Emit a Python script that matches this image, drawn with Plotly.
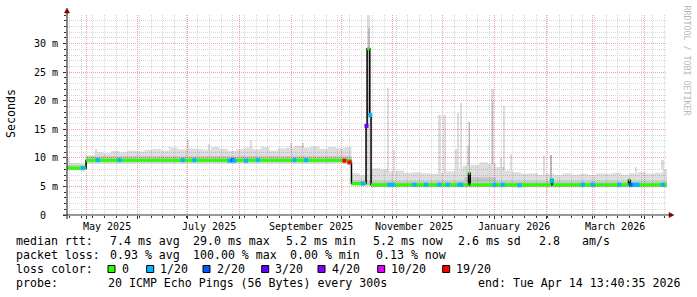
import plotly.graph_objects as go
import pandas as pd

# ---------------- data ----------------
start_time = "2025-04-19 13:40:35"
end_time = "2026-04-14 13:40:35"

# smoke (ping spread) envelope, step-wise, ms
smoke_dates = [
    "2025-04-19 13:40", "2025-04-21", "2025-04-26", "2025-05-01", "2025-05-06", "2025-05-11",
    "2025-05-16", "2025-05-21", "2025-05-26", "2025-05-31", "2025-06-05", "2025-06-10",
    "2025-06-15", "2025-06-20", "2025-06-25", "2025-06-30", "2025-07-05", "2025-07-10",
    "2025-07-15", "2025-07-20", "2025-07-25", "2025-07-30", "2025-08-04", "2025-08-09",
    "2025-08-14", "2025-08-19", "2025-08-24", "2025-08-29", "2025-09-03", "2025-09-08",
    "2025-09-13", "2025-09-18", "2025-09-23", "2025-09-28", "2025-10-03", "2025-10-07 06:00",
    "2025-10-12", "2025-10-16", "2025-10-19", "2025-10-24", "2025-10-29", "2025-11-03",
    "2025-11-08", "2025-11-13", "2025-11-18", "2025-11-23", "2025-11-28", "2025-12-03",
    "2025-12-08", "2025-12-13", "2025-12-18", "2025-12-23", "2025-12-28", "2026-01-02",
    "2026-01-07", "2026-01-12", "2026-01-17", "2026-01-22", "2026-01-27", "2026-02-01",
    "2026-02-06", "2026-02-11", "2026-02-16", "2026-02-21", "2026-02-26", "2026-03-03",
    "2026-03-08", "2026-03-13", "2026-03-18", "2026-03-23", "2026-03-28", "2026-04-02",
    "2026-04-07", "2026-04-12", "2026-04-14 13:40",
]
smoke_lo = [
    7.8, 7.8, 7.8, 9.0, 9.0, 9.0,
    9.0, 9.0, 9.0, 9.0, 9.0, 9.0,
    9.0, 9.0, 9.0, 9.0, 9.0, 9.0,
    9.0, 9.0, 9.0, 9.0, 9.0, 9.0,
    9.0, 9.0, 9.0, 9.0, 9.0, 9.0,
    9.0, 9.0, 9.0, 9.0, 8.9, 5.1,
    5.1, 5.1, 4.8, 4.8, 4.8, 4.8,
    4.8, 4.8, 4.8, 4.8, 4.8, 4.8,
    4.8, 4.8, 4.8, 4.8, 4.8, 4.8,
    4.8, 4.8, 4.8, 4.8, 4.8, 4.8,
    4.8, 4.8, 4.8, 4.8, 4.8, 4.8,
    4.8, 4.8, 4.8, 4.8, 4.8, 4.8,
    4.8, 4.8, 4.8,
]
smoke_hi = [
    10.0, 9.1, 9.0, 10.4, 11.0, 10.8,
    11.2, 11.0, 11.3, 11.1, 11.4, 11.6,
    11.3, 11.8, 11.5, 11.7, 11.6, 11.4,
    11.9, 11.6, 11.2, 11.5, 11.8, 11.5,
    11.9, 11.3, 11.7, 11.8, 12.1, 11.8,
    12.0, 11.6, 11.9, 11.7, 11.9, 7.3,
    7.0, 7.3, 8.2, 8.0, 7.6, 7.8,
    7.4, 7.5, 7.3, 7.2, 7.4, 7.6,
    8.0, 8.6, 8.8, 9.2, 9.0, 8.4,
    7.8, 7.5, 7.2, 7.3, 7.0, 7.2,
    7.0, 7.3, 7.1, 7.2, 7.0, 7.3,
    7.2, 7.4, 7.1, 7.3, 7.5, 7.2,
    7.4, 8.0, 8.0,
]

# darker core of the smoke around the median
core_dates = ["2025-04-19 13:40", "2025-05-01", "2025-10-07 06:00", "2025-10-16",
              "2025-10-19", "2025-12-14", "2026-01-02", "2026-04-14 13:40"]
core_lo = [7.9, 9.2, 5.2, 5.2, 4.9, 4.9, 4.9, 4.9]
core_hi = [8.7, 10.3, 6.0, 6.0, 5.9, 6.6, 5.9, 5.9]

# median rtt, step-wise, ms
median_dates = ["2025-04-19 13:40", "2025-05-01", "2025-10-06 18:00", "2025-10-07 06:00",
                "2025-10-16 00:00", "2025-10-16 15:00", "2025-10-18 06:00", "2025-10-19 00:00",
                "2025-12-16 12:00", "2025-12-17 12:00", "2026-02-04 00:00", "2026-02-05 00:00",
                "2026-03-22 12:00", "2026-03-23 12:00", "2026-04-14 13:40"]
median_ms = [8.2, 9.6, 9.2, 5.5, 15.6, 29.1, 17.5, 5.3, 7.3, 5.3, 6.2, 5.3, 6.1, 5.3, 5.3]

# samples with packet loss (median value, loss level index into legend)
loss_dates = ["2025-04-29", "2025-05-08", "2025-05-21", "2025-06-28", "2025-07-05", "2025-07-26",
              "2025-07-28", "2025-07-29", "2025-08-05", "2025-08-12", "2025-09-03", "2025-09-10",
              "2025-10-03", "2025-10-06", "2025-10-14", "2025-10-16 06:00", "2025-10-18 12:00",
              "2025-10-30", "2025-11-01", "2025-11-14", "2025-11-21", "2025-11-29", "2025-12-04",
              "2025-12-11", "2025-12-12", "2026-01-01", "2026-01-06", "2026-01-16", "2026-02-04 12:00",
              "2026-02-23", "2026-03-01", "2026-03-17", "2026-03-24", "2026-03-26", "2026-03-28",
              "2026-04-12"]
loss_ms = [8.2, 9.6, 9.6, 9.6, 9.6, 9.5,
           9.6, 9.5, 9.5, 9.6, 9.6, 9.6,
           9.5, 9.2, 5.5, 15.6, 17.5,
           5.3, 5.3, 5.3, 5.3, 5.3, 5.3,
           5.3, 5.3, 5.3, 5.3, 5.2, 5.9,
           5.3, 5.3, 5.3, 5.3, 5.3, 5.3,
           5.3]
loss_level = [1, 1, 1, 1, 1, 1,
              2, 1, 1, 1, 1, 1,
              6, 6, 1, 3, 1,
              1, 1, 1, 1, 1, 1,
              1, 1, 1, 1, 1, 1,
              1, 1, 1, 2, 1, 1,
              1]

# narrow smoke spikes (top of the spread, ms)
spike_dates = ["2025-05-07", "2025-06-20", "2025-07-01", "2025-07-14", "2025-08-08", "2025-09-01",
               "2025-09-08", "2025-10-05", "2025-10-16 06:00", "2025-10-17 12:00", "2025-10-29",
               "2025-11-02", "2025-11-29", "2025-12-02", "2025-12-09", "2025-12-10", "2025-12-12",
               "2025-12-16", "2025-12-17", "2025-12-31", "2026-01-05", "2026-01-07", "2026-01-11",
               "2026-01-31", "2026-02-04", "2026-03-27", "2026-04-12"]
spike_top = [11.6, 11.9, 13.1, 12.4, 13.1, 12.6,
             12.6, 11.9, 16.0, 35.0, 22.3,
             11.4, 17.5, 17.5, 11.6, 17.8, 19.6,
             12.0, 16.3, 22.0, 10.2, 19.0, 10.7,
             10.5, 10.5, 8.4, 9.6]
spike_days = [1.2, 1.2, 1.2, 1.2, 1.2, 1.2,
              1.2, 1.2, 1.0, 1.8, 1.2,
              1.2, 1.5, 1.5, 1.0, 1.0, 1.2,
              1.0, 1.2, 1.8, 1.0, 1.2, 1.0,
              1.2, 1.5, 1.2, 1.5]

# denser parts inside spikes
dark_dates = ["2025-10-17 12:00", "2025-12-17", "2025-12-31", "2026-02-04"]
dark_lo = [17.5, 7.3, 9.0, 6.3]
dark_hi = [32.7, 16.3, 20.0, 10.5]
dark_days = [1.2, 1.0, 0.8, 1.2]

# axes
y_tick_vals = [0, 5, 10, 15, 20, 25, 30]
y_tick_text = ["0\u00a0\u00a0", "5 m", "10 m", "15 m", "20 m", "25 m", "30 m"]
month_label_dates = ["2025-05-13 12:00", "2025-07-13 12:00", "2025-09-13 00:00",
                     "2025-11-13 12:00", "2026-01-13 00:00", "2026-03-14 12:00"]
month_labels = ["May 2025", "July 2025", "September 2025", "November 2025",
                "January 2026", "March 2026"]

# legend
loss_legend_labels = ["0", "1/20", "2/20", "3/20", "4/20", "10/20", "19/20"]
loss_legend_colors = ["#26ff00", "#00b8ff", "#0059ff", "#5e00ff", "#7e00ff", "#dd00ff", "#ff0000"]
legend_rtt = ["median rtt:", "7.4 ms avg", "29.0 ms max", "5.2 ms min", "5.2 ms now", "2.6 ms sd", "2.8", "am/s"]
legend_loss = ["packet loss:", "0.93 % avg", "100.00 % max", "0.00 % min", "0.13 % now"]
legend_color_title = "loss color:"
legend_probe = ["probe:", "20 ICMP Echo Pings (56 Bytes) every 300s"]
legend_end = "end: Tue Apr 14 13:40:35 2026"

# ---------------- layout geometry ----------------
W, H = 697, 297
L, T, PW, PH = 67, 15, 600, 200
MONO = "DejaVu Sans Mono"
DAY_MS = 86400000


def px(x):
    return (x - L) / PW


def py(y):
    return (T + PH - y) / PH


fig = go.Figure()

# smoke envelope
fig.add_trace(go.Scatter(x=smoke_dates, y=smoke_lo, mode="lines", line=dict(width=0, shape="hv"),
                         hoverinfo="skip", showlegend=False))
fig.add_trace(go.Scatter(x=smoke_dates, y=smoke_hi, mode="lines", line=dict(width=0, shape="hv"),
                         fill="tonexty", fillcolor="rgba(0,0,0,0.13)", hoverinfo="skip", showlegend=False))
# darker core
fig.add_trace(go.Scatter(x=core_dates, y=core_lo, mode="lines", line=dict(width=0, shape="hv"),
                         hoverinfo="skip", showlegend=False))
fig.add_trace(go.Scatter(x=core_dates, y=core_hi, mode="lines", line=dict(width=0, shape="hv"),
                         fill="tonexty", fillcolor="rgba(0,0,0,0.11)", hoverinfo="skip", showlegend=False))

# spikes: from the smoke top at that time up to the spike top
smoke_series = pd.Series(smoke_hi, index=pd.to_datetime(smoke_dates, format="ISO8601"))
spike_base = [float(smoke_series.asof(pd.Timestamp(d))) for d in spike_dates]
fig.add_trace(go.Bar(x=spike_dates, y=[t - b for t, b in zip(spike_top, spike_base)], base=spike_base,
                     width=[d * DAY_MS for d in spike_days], marker=dict(color="rgba(0,0,0,0.13)", line=dict(width=0)),
                     hoverinfo="skip", showlegend=False))
fig.add_trace(go.Bar(x=dark_dates, y=[h - l for h, l in zip(dark_hi, dark_lo)], base=dark_lo,
                     width=[d * DAY_MS for d in dark_days], marker=dict(color="rgba(0,0,0,0.16)", line=dict(width=0)),
                     hoverinfo="skip", showlegend=False))

# black step line (shows at the jumps)
fig.add_trace(go.Scatter(x=median_dates, y=median_ms, mode="lines", line=dict(color="#000000", width=1.5, shape="hv"),
                         hoverinfo="skip", showlegend=False))
# green horizontal median pieces
seg_x, seg_y = [], []
for i in range(len(median_dates) - 1):
    seg_x += [median_dates[i], median_dates[i + 1], None]
    seg_y += [median_ms[i], median_ms[i], None]
fig.add_trace(go.Scatter(x=seg_x, y=seg_y, mode="lines", line=dict(color=loss_legend_colors[0], width=3),
                         connectgaps=False, hoverinfo="skip", showlegend=False))
# loss coloured samples
fig.add_trace(go.Scatter(x=loss_dates, y=loss_ms, mode="markers",
                         marker=dict(symbol="square", size=4, color=[loss_legend_colors[k] for k in loss_level],
                                     line=dict(width=0)),
                         hoverinfo="skip", showlegend=False))

grid_minor = "#d6d6d6"
grid_major = "#f4a0a0"
axis_col = "#333333"

fig.update_xaxes(
    type="date", range=[start_time, end_time], showgrid=True, gridcolor=grid_major, griddash="1px,1px",
    gridwidth=1, dtick="M1", tick0="2025-05-01", showticklabels=False, ticks="outside", ticklen=3,
    tickcolor=axis_col, showline=False, zeroline=False, fixedrange=True,
    minor=dict(dtick=7 * DAY_MS, tick0="2025-04-21", showgrid=True, gridcolor=grid_minor,
               griddash="1px,1px", gridwidth=1, ticks="outside", ticklen=2, tickcolor=axis_col),
)
fig.update_yaxes(
    range=[0, 35], tickmode="array", tickvals=y_tick_vals, ticktext=y_tick_text, showgrid=True,
    gridcolor=grid_major, griddash="1px,1px", gridwidth=1, ticks="outside", ticklen=3, tickcolor=axis_col,
    tickfont=dict(family=MONO, size=10, color="#000000"), ticklabelstandoff=3,
    showline=False, zeroline=False, fixedrange=True,
    minor=dict(dtick=1, showgrid=True, gridcolor=grid_minor, griddash="1px,1px", gridwidth=1,
               ticks="outside", ticklen=2, tickcolor=axis_col),
)

shapes = []
# axis lines
shapes.append(dict(type="line", xref="paper", yref="paper", x0=px(63), x1=px(669), y0=0, y1=0,
                   line=dict(color=axis_col, width=1.2)))
shapes.append(dict(type="line", xref="paper", yref="paper", x0=0, x1=0, y0=py(219), y1=py(12.5),
                   line=dict(color=axis_col, width=1.2)))
# arrows
shapes.append(dict(type="path", xref="paper", yref="paper",
                   path=f"M {px(669)} {py(212.5)} L {px(674)} {py(215)} L {px(669)} {py(217.5)} Z",
                   fillcolor="#7f0000", line=dict(color="#7f0000", width=0.5)))
shapes.append(dict(type="path", xref="paper", yref="paper",
                   path=f"M {px(64.5)} {py(13)} L {px(67)} {py(8)} L {px(69.5)} {py(13)} Z",
                   fillcolor="#7f0000", line=dict(color="#7f0000", width=0.5)))
# loss colour boxes
box_left = [108, 146.7, 203, 261.7, 318, 377.7, 442.7]
for bx, col in zip(box_left, loss_legend_colors):
    shapes.append(dict(type="rect", xref="paper", yref="paper", x0=px(bx), x1=px(bx + 7),
                       y0=py(272.5), y1=py(265.5), fillcolor=col, line=dict(color="#000000", width=1)))

annotations = []
for d, t in zip(month_label_dates, month_labels):
    annotations.append(dict(x=d, xref="x", y=py(226), yref="paper", text=t, showarrow=False,
                            xanchor="center", yanchor="middle", font=dict(family=MONO, size=10, color="#000")))


def ann(x, y, text, size=11.6, anchor="left", color="#000000", angle=0):
    annotations.append(dict(x=px(x), y=py(y), xref="paper", yref="paper", text=text.replace(" ", "\u00a0"),
                            showarrow=False, xanchor=anchor, yanchor="middle", textangle=angle,
                            borderpad=0, borderwidth=0, font=dict(family=MONO, size=size, color=color)))


rtt_x = [16, 110, 193, 286, 373, 458, 538.5, 582]
for lx, txt in zip(rtt_x, legend_rtt):
    ann(lx, 241, txt)
loss_x = [16, 110, 193, 290, 375.5]
for lx, txt in zip(loss_x, legend_loss):
    ann(lx, 255, txt)
ann(16, 269, legend_color_title)
label_left = [121.7, 160, 216.7, 275, 331.5, 391, 456]
for lx, lab in zip(label_left, loss_legend_labels):
    ann(lx, 269, lab)
probe_x = [16, 107.5]
for lx, txt in zip(probe_x, legend_probe):
    ann(lx, 283, txt)
ann(680, 283, legend_end, anchor="right")
# axis title and watermark
annotations.append(dict(x=px(11), y=py(114), xref="paper", yref="paper", text="Seconds", showarrow=False,
                        textangle=-90, xanchor="center", yanchor="middle",
                        font=dict(family=MONO, size=11.6, color="#000")))
annotations.append(dict(x=px(686.5), y=py(60), xref="paper", yref="paper", text="RRDTOOL / TOBI OETIKER",
                        showarrow=False, textangle=90, xanchor="center", yanchor="middle",
                        font=dict(family=MONO, size=8.3, color="#b8b8b8")))

fig.update_layout(
    width=W, height=H, margin=dict(l=L, r=W - L - PW, t=T, b=H - T - PH),
    paper_bgcolor="#ffffff", plot_bgcolor="#ffffff", barmode="overlay", bargap=0,
    showlegend=False, shapes=shapes, annotations=annotations, hovermode=False,
)

fig.write_html("out.html", config={"displayModeBar": False, "staticPlot": True})
